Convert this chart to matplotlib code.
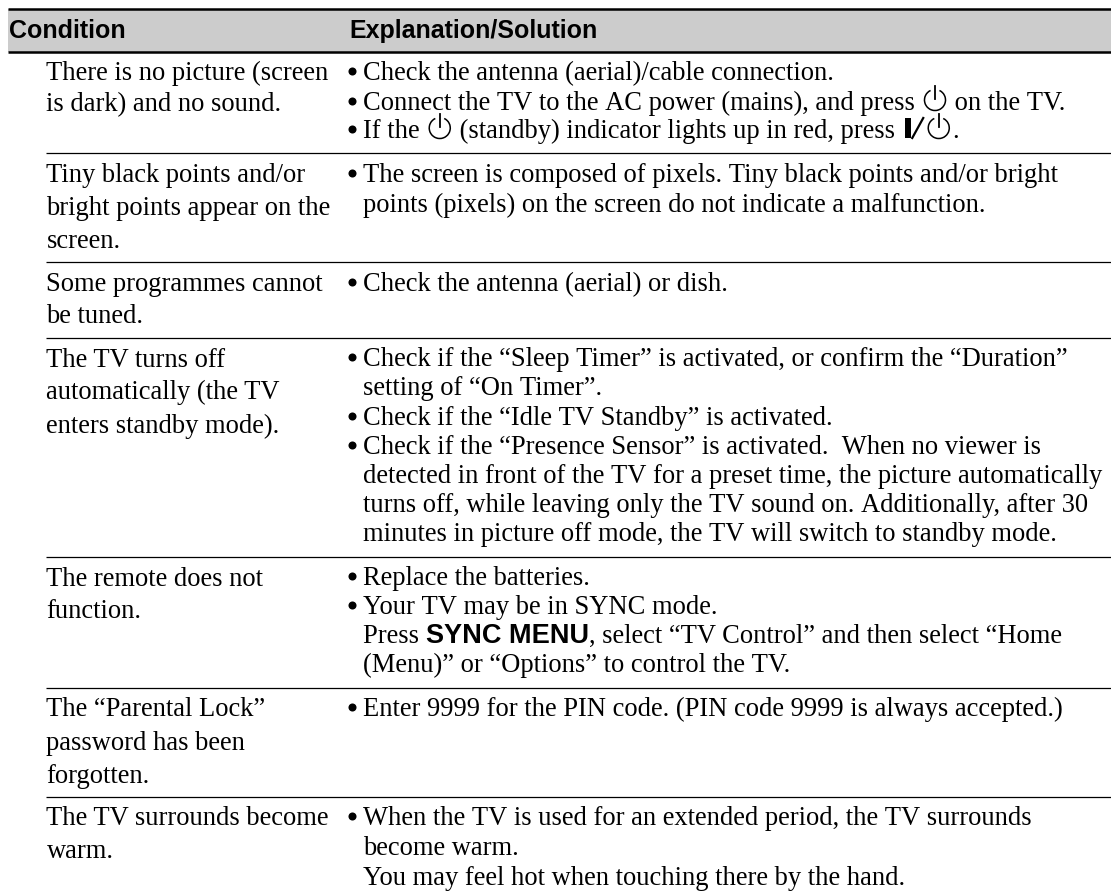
import matplotlib
matplotlib.use("Agg")
import matplotlib.pyplot as plt
from matplotlib.patches import Arc, Rectangle

SERIF = "Liberation Serif"
SANS = "Liberation Sans"
POWER = "\u23fb"  # marker for the standby symbol, drawn by hand

headers = ["Condition", "Explanation/Solution"]
conditions = [
    ["There is no picture (screen", "is dark) and no sound."],
    ["Tiny black points and/or", "bright points appear on the", "screen."],
    ["Some programmes cannot", "be tuned."],
    ["The TV turns off", "automatically (the TV", "enters standby mode)."],
    ["The remote does not", "function."],
    ["The \u201cParental Lock\u201d", "password has been", "forgotten."],
    ["The TV surrounds become", "warm."],
]
# "*" starts a bullet, "[b]" marks the bold key name
solutions = [
    ["*Check the antenna (aerial)/cable connection.",
     f"*Connect the TV to the AC power (mains), and press {POWER} on the TV.",
     f"*If the {POWER} (standby) indicator lights up in red, press [I]/{POWER}."],
    ["*The screen is composed of pixels. Tiny black points and/or bright",
     "points (pixels) on the screen do not indicate a malfunction."],
    ["*Check the antenna (aerial) or dish."],
    ["*Check if the \u201cSleep Timer\u201d is activated, or confirm the \u201cDuration\u201d",
     "setting of \u201cOn Timer\u201d.",
     "*Check if the \u201cIdle TV Standby\u201d is activated.",
     "*Check if the \u201cPresence Sensor\u201d is activated.  When no viewer is",
     "detected in front of the TV for a preset time, the picture automatically",
     "turns off, while leaving only the TV sound on. Additionally, after 30",
     "minutes in picture off mode, the TV will switch to standby mode."],
    ["*Replace the batteries.",
     "*Your TV may be in SYNC mode.",
     "Press [b]SYNC MENU[/b], select \u201cTV Control\u201d and then select \u201cHome",
     "(Menu)\u201d or \u201cOptions\u201d to control the TV."],
    ["*Enter 9999 for the PIN code. (PIN code 9999 is always accepted.)"],
    ["*When the TV is used for an extended period, the TV surrounds",
     "become warm.",
     "You may feel hot when touching there by the hand."],
]

row_lines = [153, 262, 338, 557, 688, 797]
left_base = [[80, 111], [182, 215, 248], [291, 323], [367, 399, 433],
             [586, 618], [716, 750, 783], [825, 858]]
right_base = [[80, 110, 138], [182, 212], [291],
              [366, 395, 425, 454, 483, 512, 541],
              [585, 614, 643, 672], [716], [825, 855, 885]]

FS = 19.1

fig = plt.figure(figsize=(11.11, 8.93), dpi=100)
ax = fig.add_axes([0, 0, 1, 1])
ax.set_xlim(0, 1111)
ax.set_ylim(893, 0)
ax.axis("off")
renderer = fig.canvas.get_renderer()


def draw_power(x, base):
    # standby symbol: open circle with a stick through the top
    cx = x + 13.5
    ax.add_patch(Arc((cx, base - 10), 21, 21, theta1=-65, theta2=245,
                     lw=1.1, color="black"))
    ax.plot([cx, cx], [base - 24, base - 11], color="black", lw=1.3)
    return x + 27


def put(x, base, s, **kw):
    t = ax.text(x, base, s, va="baseline", ha="left", color="black", **kw)
    return x + t.get_window_extent(renderer).width


def draw_line(x, base, line):
    if "[b]" in line:
        before, rest = line.split("[b]")
        bold, after = rest.split("[/b]")
        x = put(x, base, before.rstrip() + "\u00a0", family=SERIF, fontsize=FS)
        x = put(x, base, bold, family=SANS, fontsize=19.5, fontweight="bold")
        put(x, base, after, family=SERIF, fontsize=FS)
        return
    parts = line.split(POWER)
    for i, part in enumerate(parts):
        if "[I]/" in part:
            a, b = part.split("[I]/")
            x = put(x, base, a.rstrip(), family=SERIF, fontsize=FS)
            ax.add_patch(Rectangle((x + 10, base - 20), 6, 20, color="black", lw=0))
            ax.plot([x + 17, x + 28], [base, base - 20], color="black", lw=1.6)
            x += 30
        elif part:
            x = put(x, base, part.replace(" ", "\u00a0"), family=SERIF, fontsize=FS)
        if i < len(parts) - 1:
            x = draw_power(x, base)


# header band
ax.add_patch(Rectangle((7.5, 9), 1103.5, 43, facecolor="#cccccc", edgecolor="none"))
ax.plot([7.5, 1111], [9, 9], color="black", lw=1.8, solid_capstyle="butt")
ax.plot([7.5, 1111], [52, 52], color="black", lw=1.8, solid_capstyle="butt")
ax.text(9, 38, headers[0], family=SANS, fontweight="bold", fontsize=18, va="baseline")
ax.text(349, 38, headers[1], family=SANS, fontweight="bold", fontsize=18, va="baseline")

for y in row_lines:
    ax.plot([46, 1111], [y, y], color="black", lw=0.9, solid_capstyle="butt")

for lines, bases in zip(conditions, left_base):
    for line, b in zip(lines, bases):
        ax.text(46.5, b, line, family=SERIF, fontsize=FS, va="baseline")

for lines, bases in zip(solutions, right_base):
    for line, b in zip(lines, bases):
        if line.startswith("*"):
            ax.plot([352], [b - 9], "o", color="black", ms=5.8, mew=0)
            line = line[1:]
        draw_line(363, b, line)

fig.savefig("out.png", dpi=100)
